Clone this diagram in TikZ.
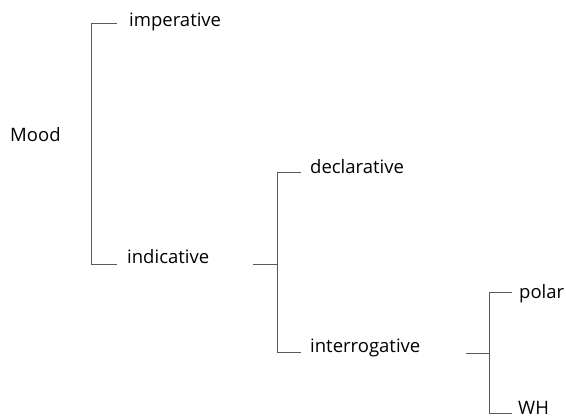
\documentclass[tikz,border=0pt]{standalone}
\usepackage{fontspec}
\setmainfont{Open Sans}
\begin{document}
\begin{tikzpicture}[x=1pt,y=-1pt,
  label/.style={font=\fontsize{18.5}{22}\selectfont, inner sep=0pt, anchor=base west},
  net/.style={draw=black!65, line width=1pt}]
\useasboundingbox (0,0) rectangle (566,418);
% feature labels
\node[label] (mood) at (10,141) {Mood};
\node[label] (imp)  at (129,26) {imperative};
\node[label] (ind)  at (127,263) {indicative};
\node[label] (decl) at (310,173) {declarative};
\node[label] (int)  at (310,352) {interrogative};
\node[label] (pol)  at (519,298) {polar};
\node[label] (wh)   at (518,414) {WH};
% system Mood
\coordinate (m1) at (117,23);
\coordinate (m2) at (117,264);
\draw[net] (m1) -- (91,23) -- (91,264) -- (m2);
% system indicative
\coordinate (i0) at (253,264);
\coordinate (i1) at (301,172);
\coordinate (i2) at (301,352);
\draw[net] (i0) -- (277,264);
\draw[net] (i1) -- (277,172) -- (277,352) -- (i2);
% system interrogative
\coordinate (q0) at (466,353);
\coordinate (q1) at (512,292);
\coordinate (q2) at (512,413);
\draw[net] (q0) -- (489,353);
\draw[net] (q1) -- (489,292) -- (489,413) -- (q2);
\end{tikzpicture}
\end{document}
